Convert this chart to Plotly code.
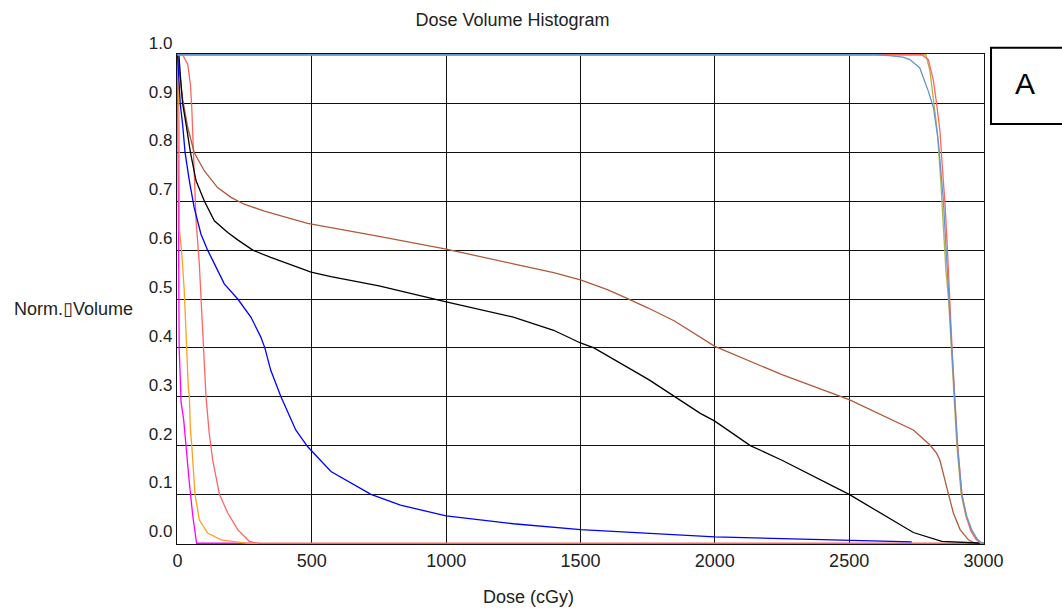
import plotly.graph_objects as go

# ---------------- data ----------------
red_left_dose = [0, 19, 38, 48, 53, 57, 62, 69, 81, 87, 94, 98, 106, 118, 131, 156, 187, 224, 267, 298, 3000]
red_left_vol = [1, 1, 0.98, 0.939, 0.891, 0.823, 0.742, 0.66, 0.572, 0.504, 0.44, 0.39, 0.3, 0.225, 0.17, 0.1, 0.062, 0.028, 0.004, 0, 0]

magenta_dose = [0, 2, 3, 6, 10, 13, 23, 31, 44, 57, 69, 71, 300]
magenta_vol = [1, 0.7, 0.49, 0.40, 0.34, 0.29, 0.252, 0.2, 0.123, 0.055, 0.004, 0, 0]

orange_dose = [0, 3, 6, 7, 15, 25, 31, 40, 44, 48, 53, 65, 81, 112, 162, 224, 262, 300]
orange_vol = [1, 0.95, 0.86, 0.64, 0.6, 0.517, 0.436, 0.32, 0.3, 0.232, 0.2, 0.1, 0.048, 0.021, 0.007, 0.003, 0, 0]

brown_dose = [0, 10, 19, 38, 62, 100, 149, 199, 248, 323, 410, 484, 750, 1000, 1250, 1400, 1500, 1600, 1667, 1750,
              1850, 2000, 2250, 2500, 2739, 2801, 2826, 2838, 2869, 2888, 2913, 2944, 2968, 3000]
brown_vol = [1, 0.953, 0.909, 0.851, 0.8, 0.762, 0.728, 0.708, 0.694, 0.68, 0.667, 0.655, 0.628, 0.602, 0.572,
             0.554, 0.539, 0.519, 0.503, 0.482, 0.455, 0.403, 0.345, 0.294, 0.232, 0.201, 0.184, 0.17, 0.102, 0.062,
             0.028, 0.007, 0, 0]

black_dose = [0, 5, 13, 19, 32, 48, 69, 100, 137, 187, 224, 280, 347, 410, 497, 571, 750, 1000, 1250, 1400, 1500,
              1550, 1754, 1946, 2000, 2132, 2250, 2500, 2628, 2739, 2845, 2975, 3000]
black_vol = [1, 1, 0.939, 0.9, 0.857, 0.8, 0.742, 0.7, 0.66, 0.636, 0.621, 0.6, 0.585, 0.572, 0.555, 0.546,
             0.527, 0.494, 0.463, 0.436, 0.41, 0.4, 0.335, 0.266, 0.25, 0.2, 0.17, 0.1, 0.058, 0.022, 0.004, 0, 0]

blue_dose = [0, 10, 19, 28, 44, 62, 87, 112, 131, 174, 224, 273, 310, 325, 347, 385, 440, 484, 571, 720,
             830, 1000, 1250, 1500, 2000, 2500, 2733]
blue_vol = [1, 0.9, 0.857, 0.8, 0.742, 0.687, 0.633, 0.6, 0.579, 0.531, 0.5, 0.463, 0.422, 0.4, 0.354, 0.3,
            0.232, 0.198, 0.147, 0.1, 0.078, 0.056, 0.04, 0.028, 0.013, 0.006, 0.003]

olive_dose = [0, 2786, 2801, 2814, 2828, 2841, 2851, 2860, 2870, 2880, 2890, 2901, 2917, 2935, 2953, 2972, 2990, 3000]
olive_vol = [1, 1, 0.966, 0.912, 0.844, 0.742, 0.64, 0.56, 0.5, 0.4, 0.3, 0.2, 0.1, 0.055, 0.028, 0.01, 0, 0]

red_right_dose = [0, 2770, 2795, 2814, 2826, 2838, 2848, 2857, 2866, 2874, 2883, 2893, 2904, 2920, 2936, 2953, 2972, 2990, 3000]
red_right_vol = [1, 1, 0.99, 0.946, 0.898, 0.844, 0.762, 0.694, 0.6, 0.5, 0.4, 0.3, 0.2, 0.1, 0.055, 0.025, 0.008, 0, 0]

lightblue_dose = [0, 2600, 2650, 2700, 2726, 2763, 2795, 2814, 2832, 2845, 2851, 2857, 2865, 2873, 2882, 2892,
                  2903, 2919, 2938, 2956, 2975, 2993, 3000]
lightblue_vol = [1, 1, 0.998, 0.995, 0.99, 0.973, 0.925, 0.891, 0.823, 0.742, 0.7, 0.64, 0.56, 0.5, 0.4, 0.3,
                 0.2, 0.1, 0.055, 0.028, 0.01, 0, 0]

x_ticks = [0, 500, 1000, 1500, 2000, 2500, 3000]
y_ticks = [0.0, 0.1, 0.2, 0.3, 0.4, 0.5, 0.6, 0.7, 0.8, 0.9, 1.0]
y_tick_text = ["0.0", "0.1", "0.2", "0.3", "0.4", "0.5", "0.6", "0.7", "0.8", "0.9", "1.0"]

series = [
    (red_left_dose, red_left_vol, "#FF6464"),
    (magenta_dose, magenta_vol, "#FF00FF"),
    (orange_dose, orange_vol, "#FFA020"),
    (brown_dose, brown_vol, "#B05A3C"),
    (black_dose, black_vol, "#000000"),
    (blue_dose, blue_vol, "#0000FF"),
    (olive_dose, olive_vol, "#B4B446"),
    (red_right_dose, red_right_vol, "#FF6464"),
    (lightblue_dose, lightblue_vol, "#6495CD"),
]

FONT = "Liberation Sans, Arial, DejaVu Sans, sans-serif"

fig = go.Figure()
for xs, ys, col in series:
    fig.add_trace(go.Scatter(x=xs, y=ys, mode="lines",
                             line=dict(color=col, width=1.3), showlegend=False,
                             hoverinfo="skip"))

fig.update_layout(
    width=1062, height=611,
    margin=dict(l=177, r=78, t=54, b=67, autoexpand=False),
    paper_bgcolor="white", plot_bgcolor="white",
    title=dict(text="Dose Volume Histogram", x=0.4826, xref="container",
               y=1 - 20 / 611, yref="container", xanchor="center", yanchor="middle",
               font=dict(family=FONT, size=18, color="#222222")),
    font=dict(family=FONT, color="#222222"),
)

fig.update_xaxes(
    range=[-2, 3002], tickvals=x_ticks, ticktext=[str(t) for t in x_ticks],
    showgrid=True, gridcolor="#111111", gridwidth=1.2,
    showline=True, linecolor="#111111", linewidth=1.2, mirror=True,
    ticks="", zeroline=False, automargin=False,
    tickfont=dict(family=FONT, size=18, color="#222222"),
)
fig.update_yaxes(
    range=[-0.0015, 1.0015], tickvals=y_ticks, ticktext=y_tick_text,
    showgrid=True, gridcolor="#111111", gridwidth=1.2,
    showline=True, linecolor="#111111", linewidth=1.2, mirror=True,
    ticks="", zeroline=False, ticklabelposition="outside top", automargin=False,
    tickfont=dict(family=FONT, size=17, color="#222222"),
)

# axis titles
fig.add_annotation(text="Dose (cGy)", xref="paper", yref="paper", x=0.435, y=-0.108,
                   xanchor="center", yanchor="middle", showarrow=False,
                   font=dict(family=FONT, size=18, color="#222222"))
fig.add_annotation(text="Norm.\u25AFVolume", xref="paper", yref="paper", x=-0.204, y=0.4806,
                   xanchor="left", yanchor="middle", showarrow=False,
                   font=dict(family=FONT, size=18, color="#222222"))

# panel label box "A"
fig.add_shape(type="rect", xref="paper", yref="paper", x0=1.0087, x1=1.12, y0=0.857, y1=1.0129,
              line=dict(color="black", width=2), fillcolor="white", layer="above")
fig.add_annotation(text="A", xref="paper", yref="paper", x=1.0508, y=0.940,
                   xanchor="center", yanchor="middle", showarrow=False,
                   font=dict(family=FONT, size=30, color="#000000"))

fig.write_html("out.html", config={"displayModeBar": False},
               post_script="document.body.style.margin='0';document.body.style.overflow='hidden';")
